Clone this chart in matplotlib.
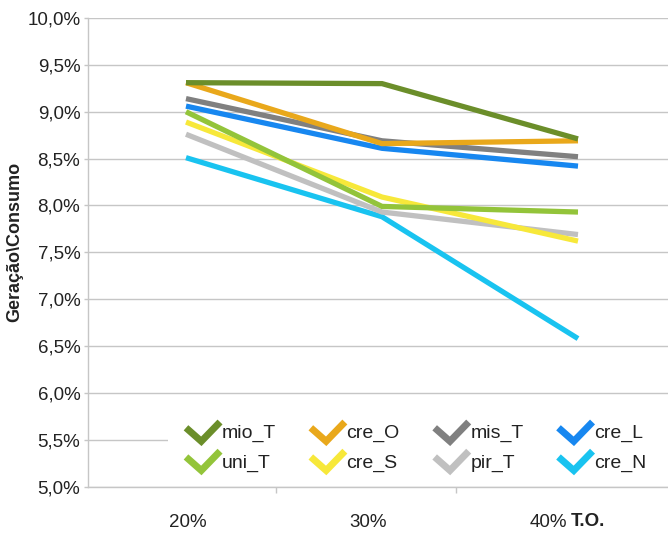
import numpy as np
import matplotlib
matplotlib.use("Agg")
import matplotlib.pyplot as plt
from matplotlib.lines import Line2D
from matplotlib.patches import Rectangle
from matplotlib.legend_handler import HandlerBase
from matplotlib.ticker import FuncFormatter, FixedLocator

# Share of generation over consumption for each scenario, by T.O. level
categories = ["20%", "30%", "40%"]
series_names = ["mio_T", "cre_O", "mis_T", "cre_L", "uni_T", "cre_S", "pir_T", "cre_N"]
mio_T = [9.31, 9.30, 8.71]
cre_O = [9.31, 8.66, 8.69]
mis_T = [9.14, 8.69, 8.52]
cre_L = [9.06, 8.61, 8.42]
uni_T = [9.00, 7.99, 7.93]
cre_S = [8.89, 8.09, 7.62]
pir_T = [8.76, 7.93, 7.69]
cre_N = [8.51, 7.88, 6.58]
y_ticks = [5.0, 5.5, 6.0, 6.5, 7.0, 7.5, 8.0, 8.5, 9.0, 9.5, 10.0]

values = [mio_T, cre_O, mis_T, cre_L, uni_T, cre_S, pir_T, cre_N]
colors = ["#6b8e2a", "#e9a81b", "#808080", "#1787f0",
          "#93c43a", "#f7e83a", "#c0c0c0", "#19c3f0"]

plt.rcParams["font.family"] = ["Liberation Sans", "DejaVu Sans"]

W, H = 668, 533
fig = plt.figure(figsize=(W / 100, H / 100), dpi=100)
ax = fig.add_axes([88 / W, 46.3 / H, 588 / W, 468.7 / H])

x = np.arange(len(categories))
lines = {}
n = len(values)
for i, (name, vals, c) in enumerate(zip(series_names, values, colors)):
    (ln,) = ax.plot(x, vals, color=c, lw=3.8, solid_capstyle="butt",
                    solid_joinstyle="miter", zorder=3 + (n - i) * 0.1)
    lines[name] = ln

ax.set_xlim(-0.5, 2.5)
ax.set_ylim(5.0, 10.0)

grid_c = "#c6c6c6"
ax.set_yticks(y_ticks)
ax.yaxis.set_major_formatter(FuncFormatter(lambda v, p: f"{v:.1f}%".replace(".", ",")))
ax.grid(axis="y", color=grid_c, lw=1.0)
ax.set_axisbelow(True)
ax.tick_params(axis="y", length=3, width=1.0, color=grid_c, pad=2.5,
               labelsize=13.5, labelcolor="#222222")

# category labels on a slightly narrower grid than the line points,
# with boundary marks between them
label_pos = [0.01, 0.93, 1.85]
boundary_pos = [0.46, 1.38]
ax.set_xticks(label_pos)
ax.set_xticklabels(categories)
ax.tick_params(axis="x", which="major", length=0, pad=20,
               labelsize=13.5, labelcolor="#222222")
ax.xaxis.set_minor_locator(FixedLocator(boundary_pos))
ax.tick_params(axis="x", which="minor", length=4, width=1.0, color=grid_c)

for s in ["top", "right"]:
    ax.spines[s].set_visible(False)
for s in ["left", "bottom"]:
    ax.spines[s].set_color(grid_c)
    ax.spines[s].set_linewidth(1.0)

fig.text(588 / W, 1 - 522 / H, "T.O.", fontsize=13.5, fontweight="bold",
         ha="center", va="center", color="#222222")
fig.text(15 / W, 1 - 242 / H, "Geração\\Consumo", fontsize=13, fontweight="bold",
         rotation=90, ha="center", va="center", color="#222222")

# white backdrop behind the legend
ax.add_patch(Rectangle((168 / W, 1 - 476 / H), 1.0, 72 / H, transform=fig.transFigure,
                       facecolor="white", edgecolor="none", zorder=1))


class CheckHandler(HandlerBase):
    def create_artists(self, legend, orig_handle, xdescent, ydescent,
                       width, height, fontsize, trans):
        xs = np.array([0.0, 0.45, 1.0]) * width - xdescent
        ys = np.array([0.7, 0.0, 1.0]) * height - ydescent
        ln = Line2D(xs, ys, color=orig_handle.get_color(), lw=5.0,
                    solid_joinstyle="miter", solid_capstyle="butt", transform=trans)
        return [ln]


# the legend fills column by column, so interleave the two rows
order = [0, 4, 1, 5, 2, 6, 3, 7]
handles = [lines[series_names[k]] for k in order]
labels = [series_names[k] for k in order]
leg = fig.legend(handles, labels, ncol=4, loc="upper left",
                 bbox_to_anchor=(186 / W, 1 - 422 / H), frameon=False,
                 fontsize=14, handlelength=1.75, handleheight=1.15,
                 handletextpad=0.08, columnspacing=1.8, labelspacing=0.45,
                 borderpad=0, borderaxespad=0,
                 handler_map={Line2D: CheckHandler()})
for t in leg.get_texts():
    t.set_color("#222222")

fig.savefig("out.png", dpi=100)
